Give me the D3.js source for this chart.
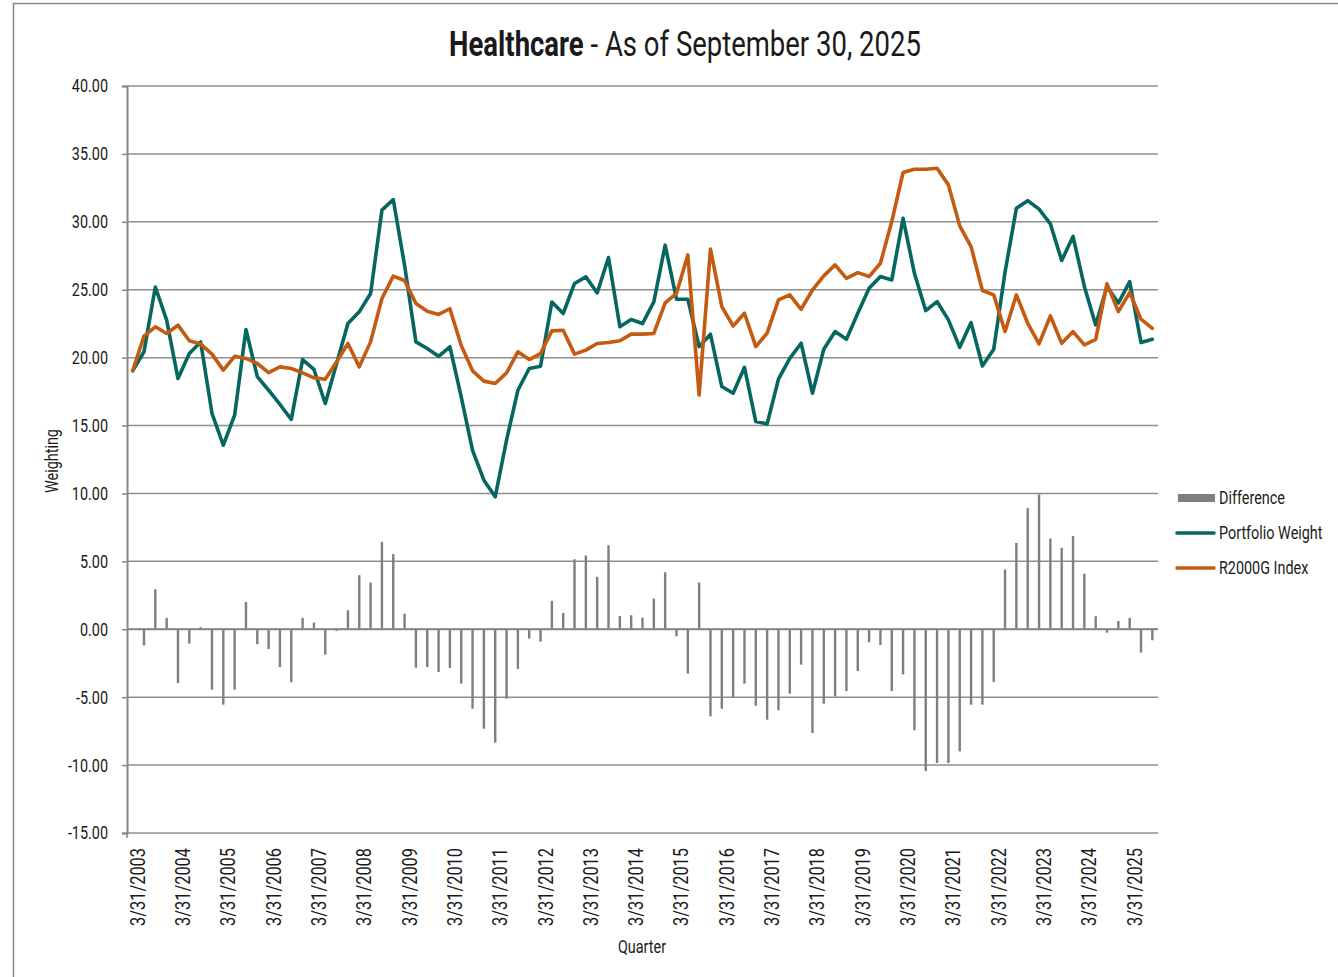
<!DOCTYPE html>
<html>
<head>
<meta charset="utf-8">
<script src="https://cdn.jsdelivr.net/npm/d3@7"></script>
<style>
  html, body { margin: 0; padding: 0; background: #fff; }
  svg { display: block; }
  text { font-family: Roboto, "Liberation Sans", sans-serif; fill: #1a1a1a; }
</style>
</head>
<body>
<svg id="chart" width="1338" height="977"></svg>
<script>
// Quarter-end dates, 2003 Q1 through 2025 Q3
const quarters = [
  "3/31/2003","6/30/2003","9/30/2003","12/31/2003",
  "3/31/2004","6/30/2004","9/30/2004","12/31/2004",
  "3/31/2005","6/30/2005","9/30/2005","12/31/2005",
  "3/31/2006","6/30/2006","9/30/2006","12/31/2006",
  "3/31/2007","6/30/2007","9/30/2007","12/31/2007",
  "3/31/2008","6/30/2008","9/30/2008","12/31/2008",
  "3/31/2009","6/30/2009","9/30/2009","12/31/2009",
  "3/31/2010","6/30/2010","9/30/2010","12/31/2010",
  "3/31/2011","6/30/2011","9/30/2011","12/31/2011",
  "3/31/2012","6/30/2012","9/30/2012","12/31/2012",
  "3/31/2013","6/30/2013","9/30/2013","12/31/2013",
  "3/31/2014","6/30/2014","9/30/2014","12/31/2014",
  "3/31/2015","6/30/2015","9/30/2015","12/31/2015",
  "3/31/2016","6/30/2016","9/30/2016","12/31/2016",
  "3/31/2017","6/30/2017","9/30/2017","12/31/2017",
  "3/31/2018","6/30/2018","9/30/2018","12/31/2018",
  "3/31/2019","6/30/2019","9/30/2019","12/31/2019",
  "3/31/2020","6/30/2020","9/30/2020","12/31/2020",
  "3/31/2021","6/30/2021","9/30/2021","12/31/2021",
  "3/31/2022","6/30/2022","9/30/2022","12/31/2022",
  "3/31/2023","6/30/2023","9/30/2023","12/31/2023",
  "3/31/2024","6/30/2024","9/30/2024","12/31/2024",
  "3/31/2025","6/30/2025","9/30/2025"
];

// Labelled quarters on the category axis
const tickLabels = [
  "3/31/2003","3/31/2004","3/31/2005","3/31/2006","3/31/2007","3/31/2008",
  "3/31/2009","3/31/2010","3/31/2011","3/31/2012","3/31/2013","3/31/2014",
  "3/31/2015","3/31/2016","3/31/2017","3/31/2018","3/31/2019","3/31/2020",
  "3/31/2021","3/31/2022","3/31/2023","3/31/2024","3/31/2025"
];

// Healthcare weight in the portfolio (%)
const portfolioWeight = [
  19.03, 20.43, 25.20, 22.76, 18.46, 20.30, 21.15, 15.90, 13.55, 15.76,
  22.07, 18.60, 17.60, 16.55, 15.45, 19.86, 19.13, 16.62, 19.57, 22.51,
  23.37, 24.72, 30.86, 31.64, 26.80, 21.16, 20.67, 20.10, 20.80, 17.11,
  13.18, 10.98,  9.75, 13.92, 17.60, 19.20, 19.37, 24.10, 23.25, 25.46,
  25.95, 24.77, 27.37, 22.27, 22.81, 22.51, 24.10, 28.28, 24.30, 24.30,
  20.81, 21.72, 17.87, 17.38, 19.29, 15.29, 15.12, 18.41, 19.95, 21.06,
  17.38, 20.62, 21.92, 21.35, 23.27, 25.11, 25.97, 25.72, 30.26, 26.21,
  23.46, 24.13, 22.78, 20.76, 22.58, 19.39, 20.62, 26.30, 31.00, 31.56,
  30.93, 29.85, 27.15, 28.92, 25.24, 22.41, 25.24, 24.02, 25.60, 21.11,
  21.35
];

// Healthcare weight in the Russell 2000 Growth index (%)
const indexWeight = [
  19.03, 21.58, 22.27, 21.78, 22.39, 21.24, 21.00, 20.26, 19.08, 20.10,
  19.94, 19.57, 18.90, 19.32, 19.20, 18.88, 18.51, 18.41, 19.69, 21.04,
  19.32, 21.16, 24.35, 26.00, 25.68, 23.99, 23.42, 23.18, 23.60, 20.90,
  19.03, 18.27, 18.10, 18.88, 20.43, 19.86, 20.30, 21.97, 22.02, 20.26,
  20.55, 21.04, 21.11, 21.24, 21.73, 21.73, 21.78, 24.04, 24.74, 27.56,
  17.25, 28.00, 23.76, 22.33, 23.27, 20.81, 21.80, 24.25, 24.62, 23.56,
  24.98, 26.02, 26.83, 25.84, 26.26, 25.97, 26.95, 30.02, 33.63, 33.87,
  33.87, 33.94, 32.72, 29.70, 28.18, 24.94, 24.62, 21.92, 24.62, 22.53,
  21.01, 23.07, 21.06, 21.92, 20.94, 21.35, 25.43, 23.39, 24.79, 22.83,
  22.16
];

// Over/underweight versus the index (percentage points)
const difference = [
   0.00, -1.18,  2.95,  0.84, -3.96, -1.06,  0.15, -4.45, -5.55, -4.45,
   2.01, -1.10, -1.45, -2.78, -3.90,  0.84,  0.49, -1.87, -0.12,  1.40,
   3.98,  3.44,  6.44,  5.53,  1.15, -2.83, -2.78, -3.14, -2.85, -4.00,
  -5.85, -7.32, -8.35, -5.11, -2.92, -0.69, -0.91,  2.09,  1.20,  5.16,
   5.43,  3.86,  6.19,  0.98,  1.03,  0.86,  2.26,  4.20, -0.52, -3.26,
   3.44, -6.41, -5.85, -5.04, -4.00, -5.63, -6.66, -5.97, -4.74, -2.60,
  -7.64, -5.48, -4.94, -4.55, -3.07, -0.96, -1.15, -4.55, -3.32, -7.44,
 -10.44, -9.85, -9.85, -8.99, -5.55, -5.55, -3.88,  4.40,  6.36,  8.92,
   9.93,  6.68,  6.00,  6.86,  4.10,  0.96, -0.25,  0.61,  0.84, -1.72,
  -0.81
];

const yTicks = [-15, -10, -5, 0, 5, 10, 15, 20, 25, 30, 35, 40];

const seriesNames = ["Difference", "Portfolio Weight", "R2000G Index"];

// ---- drawing ----
const COLORS = { bar: "#7f7f7f", portfolio: "#05675f", index: "#c55a11", grid: "#8f8f8f", axis: "#868686" };
const NARROW = 0.8; // horizontal squeeze giving a condensed face

const svg = d3.select("#chart");
const plot = { left: 127, right: 1158, top: 86, bottom: 833 };

const x = d3.scaleBand().domain(quarters).range([plot.left, plot.right]).paddingInner(0).paddingOuter(0);
const cx = d => x(d) + x.bandwidth() / 2;
const y = d3.scaleLinear().domain([-15, 40]).range([plot.bottom, plot.top]);

// condensed text helper: anchor point, optional rotation, horizontal squeeze
function label(parent, tx, ty, str, opts = {}) {
  const rot = opts.rotate ? ` rotate(${opts.rotate})` : "";
  return parent.append("text")
    .attr("transform", `translate(${tx},${ty})${rot} scale(${opts.sx || NARROW},1)`)
    .attr("text-anchor", opts.anchor || "start")
    .attr("dy", opts.dy || null)
    .attr("font-size", opts.size || 18)
    .text(str);
}

// outer frame
svg.append("rect")
  .attr("x", 13.5).attr("y", 3.5).attr("width", 1400).attr("height", 1100)
  .attr("fill", "none").attr("stroke", "#8a8a8a").attr("stroke-width", 1.5);

// horizontal gridlines
svg.append("g").selectAll("line").data(yTicks).join("line")
  .attr("x1", plot.left).attr("x2", plot.right)
  .attr("y1", d => y(d)).attr("y2", d => y(d))
  .attr("stroke", COLORS.grid).attr("stroke-width", 1.5);

// value axis: line, ticks, labels
const yAxis = d3.axisLeft(y).tickValues(yTicks).tickSize(5).tickFormat("");
const yg = svg.append("g").attr("transform", `translate(${plot.left},0)`).call(yAxis);
yg.select(".domain").attr("stroke", COLORS.axis).attr("stroke-width", 2);
yg.selectAll(".tick line").attr("stroke", COLORS.axis).attr("stroke-width", 1.5);
const yLab = svg.append("g");
yTicks.forEach(t => label(yLab, 108, y(t), t.toFixed(2), { anchor: "end", dy: "0.36em", size: 18 }));

// difference bars
const qData = quarters.map((q, i) => ({ q, p: portfolioWeight[i], r: indexWeight[i], d: difference[i] }));
svg.append("g").selectAll("rect").data(qData).join("rect")
  .attr("x", d => cx(d.q) - 1.2)
  .attr("width", 2.4)
  .attr("y", d => y(Math.max(0, d.d)))
  .attr("height", d => Math.abs(y(d.d) - y(0)))
  .attr("fill", COLORS.bar);

// category axis line at zero
svg.append("line")
  .attr("x1", plot.left).attr("x2", plot.right)
  .attr("y1", y(0)).attr("y2", y(0))
  .attr("stroke", COLORS.axis).attr("stroke-width", 2);

// small tick at bottom-left corner
svg.append("line")
  .attr("x1", plot.left).attr("x2", plot.left)
  .attr("y1", plot.bottom).attr("y2", plot.bottom + 5)
  .attr("stroke", COLORS.axis).attr("stroke-width", 1.5);

// weight lines
const line = key => d3.line().x(d => cx(d.q)).y(d => y(d[key]));
svg.append("path").datum(qData)
  .attr("d", line("p")).attr("fill", "none")
  .attr("stroke", COLORS.portfolio).attr("stroke-width", 3.6)
  .attr("stroke-linejoin", "round").attr("stroke-linecap", "round");
svg.append("path").datum(qData)
  .attr("d", line("r")).attr("fill", "none")
  .attr("stroke", COLORS.index).attr("stroke-width", 3.6)
  .attr("stroke-linejoin", "round").attr("stroke-linecap", "round");

// category labels, rotated to read upward
const xLab = svg.append("g");
tickLabels.forEach(t => label(xLab, cx(t) + 12, plot.bottom + 15, t, { anchor: "end", rotate: -90, size: 20, sx: 0.82 }));

// axis titles
label(svg, 642, 953, "Quarter", { anchor: "middle", size: 18 });
label(svg, 58, 461, "Weighting", { anchor: "middle", rotate: -90, size: 18 });

// title, squeezed to the same condensed width
const title = svg.append("text")
  .attr("text-anchor", "middle").attr("font-size", 36);
title.append("tspan").attr("font-weight", "bold").text("Healthcare");
title.append("tspan").text(" - As of September 30, 2025");
const tLen = title.node().getComputedTextLength();
const tSx = Math.min(1, 472 / tLen);
title.attr("transform", `translate(685,56) scale(${tSx},1)`);

// legend
const legend = svg.append("g");
const ly = [498, 533, 568];
legend.append("rect").attr("x", 1178).attr("y", ly[0] - 4).attr("width", 37).attr("height", 8).attr("fill", COLORS.bar);
legend.append("line").attr("x1", 1177).attr("x2", 1214).attr("y1", ly[1]).attr("y2", ly[1])
  .attr("stroke", COLORS.portfolio).attr("stroke-width", 3.6).attr("stroke-linecap", "round");
legend.append("line").attr("x1", 1177).attr("x2", 1214).attr("y1", ly[2]).attr("y2", ly[2])
  .attr("stroke", COLORS.index).attr("stroke-width", 3.6).attr("stroke-linecap", "round");
seriesNames.forEach((n, i) => label(legend, 1219, ly[i], n, { dy: "0.36em", size: 18 }));
</script>
</body>
</html>
